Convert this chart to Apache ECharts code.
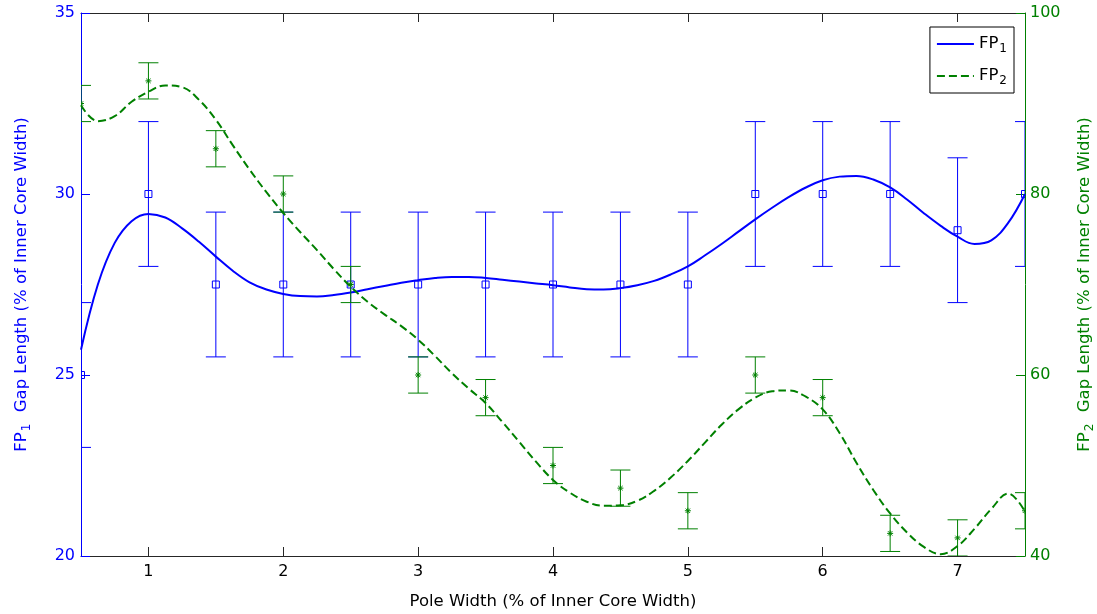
<!DOCTYPE html>
<html>
<head>
<meta charset="utf-8">
<script src="https://cdn.jsdelivr.net/npm/echarts@6/dist/echarts.min.js"></script>
<style>
  html, body { margin: 0; padding: 0; background: #fff; }
  #chart { width: 1097px; height: 614px; }
</style>
</head>
<body>
<div id="chart"></div>
<script>
// Measured gap lengths at each pole width (percent of inner core width)
const poleWidth = [0.5, 1, 1.5, 2, 2.5, 3, 3.5, 4, 4.5, 5, 5.5, 6, 6.5, 7, 7.5];
const fp1Gap = [25, 30, 27.5, 27.5, 27.5, 27.5, 27.5, 27.5, 27.5, 27.5, 30, 30, 30, 29, 30];
const fp1Err = [2, 2, 2, 2, 2, 2, 2, 2, 2, 2, 2, 2, 2, 2, 2];
const fp2Gap = [90, 92.5, 85, 80, 70, 60, 57.5, 50, 47.5, 45, 60, 57.5, 42.5, 42, 45];
const fp2Err = [2, 2, 2, 2, 2, 2, 2, 2, 2, 2, 2, 2, 2, 2, 2];

// Fitted curves, sampled every 0.125 along the pole width
const fitX = [0.5, 0.625, 0.75, 0.875, 1.0, 1.125, 1.25, 1.375, 1.5, 1.625, 1.75, 1.875,
  2.0, 2.125, 2.25, 2.375, 2.5, 2.625, 2.75, 2.875, 3.0, 3.125, 3.25, 3.375,
  3.5, 3.625, 3.75, 3.875, 4.0, 4.125, 4.25, 4.375, 4.5, 4.625, 4.75, 4.875,
  5.0, 5.125, 5.25, 5.375, 5.5, 5.625, 5.75, 5.875, 6.0, 6.125, 6.25, 6.375,
  6.5, 6.625, 6.75, 6.875, 7.0, 7.125, 7.25, 7.375, 7.5];
const fp1FitY = [25.7, 27.5, 28.65, 29.25, 29.45, 29.35, 29.05, 28.68, 28.27, 27.88, 27.56, 27.36,
  27.24, 27.18, 27.17, 27.21, 27.28, 27.37, 27.46, 27.55, 27.62, 27.68, 27.71, 27.71,
  27.68, 27.63, 27.58, 27.53, 27.48, 27.42, 27.37, 27.36, 27.4, 27.48, 27.6, 27.78,
  28.0, 28.3, 28.62, 28.96, 29.3, 29.62, 29.92, 30.18, 30.38, 30.48, 30.5, 30.4,
  30.18, 29.85, 29.47, 29.12, 28.82, 28.62, 28.72, 29.2, 30.0];
const fp2FitY = [89.8, 88.05, 88.6, 90.2, 91.3, 92.0, 91.8, 90.4, 88.2, 85.4, 82.7, 80.2,
  77.9, 75.8, 73.8, 71.7, 69.75, 68.1, 66.7, 65.4, 63.9, 62.1, 60.2, 58.5,
  56.9, 54.8, 52.6, 50.4, 48.4, 47.0, 46.0, 45.55, 45.6, 46.1, 47.2, 48.7,
  50.5, 52.5, 54.5, 56.2, 57.5, 58.2, 58.3, 57.6, 56.2, 53.6, 50.3, 47.3,
  44.7, 42.6, 41.0, 40.2, 41.1, 43.0, 45.2, 46.9, 44.9];

// Axis ticks
const xTicks = [1, 2, 3, 4, 5, 6, 7];

const BLUE = '#0000ff';
const GREEN = '#008000';
const AXIS = '#262626';
const FONT = 'DejaVu Sans';

const zip = (xs, ys) => xs.map((x, i) => [x, ys[i]]);
const errData = (ys, es) => poleWidth.map((x, i) => [x, ys[i], es[i]]);

function subRich(color) {
  return {
    n: { fontFamily: FONT, fontSize: 16.5, color: color, lineHeight: 20 },
    s: { fontFamily: FONT, fontSize: 12, color: color, lineHeight: 12, padding: [10, 1, 0, 1] }
  };
}

// Error bar with caps plus a marker (square or asterisk)
function errorBars(color, marker) {
  return function (params, api) {
    const x = api.value(0), y = api.value(1), e = api.value(2);
    const c = api.coord([x, y]);
    const lo = api.coord([x, y - e]);
    const hi = api.coord([x, y + e]);
    const w = 10;
    const ls = { stroke: color, lineWidth: 1 };
    const children = [
      { type: 'line', shape: { x1: c[0], y1: lo[1], x2: c[0], y2: hi[1] }, style: ls },
      { type: 'line', shape: { x1: c[0] - w, y1: lo[1], x2: c[0] + w, y2: lo[1] }, style: ls },
      { type: 'line', shape: { x1: c[0] - w, y1: hi[1], x2: c[0] + w, y2: hi[1] }, style: ls }
    ];
    if (marker === 'square') {
      children.push({ type: 'rect', shape: { x: c[0] - 3.5, y: c[1] - 3.5, width: 7, height: 7 },
        style: { fill: null, stroke: color, lineWidth: 1 } });
    } else {
      const r = 3, d = 2.2;
      children.push(
        { type: 'line', shape: { x1: c[0] - r, y1: c[1], x2: c[0] + r, y2: c[1] }, style: ls },
        { type: 'line', shape: { x1: c[0], y1: c[1] - r, x2: c[0], y2: c[1] + r }, style: ls },
        { type: 'line', shape: { x1: c[0] - d, y1: c[1] - d, x2: c[0] + d, y2: c[1] + d }, style: ls },
        { type: 'line', shape: { x1: c[0] - d, y1: c[1] + d, x2: c[0] + d, y2: c[1] - d }, style: ls }
      );
    }
    return { type: 'group', children: children };
  };
}

const chart = echarts.init(document.getElementById('chart'), null, { renderer: 'canvas' });

const legendRich = {
  n: { fontFamily: FONT, fontSize: 16.5, color: '#000', lineHeight: 20 },
  s: { fontFamily: FONT, fontSize: 12, color: '#000', lineHeight: 12, padding: [10, 0, 0, 1] }
};

chart.setOption({
  animation: false,
  backgroundColor: '#fff',
  grid: { left: 81, right: 72, top: 13, bottom: 58, containLabel: false, outerBoundsMode: 'none' },
  legend: {
    orient: 'vertical',
    right: 83,
    top: 27,
    padding: [6, 7, 6, 6],
    itemGap: 10,
    itemWidth: 37,
    itemHeight: 14,
    backgroundColor: '#fff',
    borderColor: '#000',
    borderWidth: 1,
    borderRadius: 0,
    itemStyle: { opacity: 0 },
    data: ['FP1', 'FP2'],
    formatter: function (name) { return '{n|FP}{s|' + name.slice(2) + '}'; },
    textStyle: { rich: legendRich }
  },
  xAxis: [
    {
      type: 'value', min: 0.5, max: 7.5, position: 'bottom',
      name: 'Pole Width (% of Inner Core Width)',
      nameLocation: 'middle', nameGap: 37,
      nameTextStyle: { fontFamily: FONT, fontSize: 16.5, color: '#000' },
      axisLine: { show: true, onZero: false, lineStyle: { color: AXIS, width: 1 } },
      axisTick: { show: true, inside: true, length: 9, customValues: xTicks, lineStyle: { color: AXIS } },
      axisLabel: { customValues: xTicks, fontFamily: FONT, fontSize: 16, color: '#000', margin: 8 },
      splitLine: { show: false }
    },
    {
      type: 'value', min: 0.5, max: 7.5, position: 'top',
      axisLine: { show: true, onZero: false, lineStyle: { color: AXIS, width: 1 } },
      axisTick: { show: true, inside: true, length: 9, customValues: xTicks, lineStyle: { color: AXIS } },
      axisLabel: { show: false },
      splitLine: { show: false }
    }
  ],
  yAxis: [
    {
      type: 'value', min: 20, max: 35, interval: 5, position: 'left',
      name: '{n|FP}{s|1}{n|  Gap Length (% of Inner Core Width)}',
      nameLocation: 'middle', nameRotate: 90, nameGap: 49,
      nameTextStyle: { rich: subRich(BLUE) },
      axisLine: { show: true, onZero: false, lineStyle: { color: BLUE, width: 1 } },
      axisTick: { show: true, inside: true, length: 9, lineStyle: { color: BLUE } },
      axisLabel: { fontFamily: FONT, fontSize: 16, color: BLUE, margin: 6 },
      splitLine: { show: false }
    },
    {
      type: 'value', min: 40, max: 100, interval: 20, position: 'right',
      name: '{n|FP}{s|2}{n|  Gap Length (% of Inner Core Width)}',
      nameLocation: 'middle', nameRotate: 90, nameGap: 50,
      nameTextStyle: { rich: subRich(GREEN) },
      axisLine: { show: true, onZero: false, lineStyle: { color: GREEN, width: 1 } },
      axisTick: { show: true, inside: true, length: 9, lineStyle: { color: GREEN } },
      axisLabel: { fontFamily: FONT, fontSize: 16, color: GREEN, margin: 5 },
      splitLine: { show: false }
    }
  ],
  series: [
    {
      name: 'FP1-err', type: 'custom', xAxisIndex: 0, yAxisIndex: 0, clip: true, z: 2,
      renderItem: errorBars(BLUE, 'square'),
      data: errData(fp1Gap, fp1Err)
    },
    {
      name: 'FP1', type: 'line', xAxisIndex: 0, yAxisIndex: 0, smooth: 0.4, symbol: 'none',
      showSymbol: false, z: 3, clip: true,
      lineStyle: { color: BLUE, width: 2, type: 'solid' }, itemStyle: { color: BLUE },
      data: zip(fitX, fp1FitY)
    },
    {
      name: 'FP2-err', type: 'custom', xAxisIndex: 0, yAxisIndex: 1, clip: true, z: 4,
      renderItem: errorBars(GREEN, 'star'),
      data: errData(fp2Gap, fp2Err)
    },
    {
      name: 'FP2', type: 'line', xAxisIndex: 0, yAxisIndex: 1, smooth: 0.4, symbol: 'none',
      showSymbol: false, z: 5, clip: true,
      lineStyle: { color: GREEN, width: 2, type: [8, 4] }, itemStyle: { color: GREEN },
      data: zip(fitX, fp2FitY)
    }
  ]
});
</script>
</body>
</html>
